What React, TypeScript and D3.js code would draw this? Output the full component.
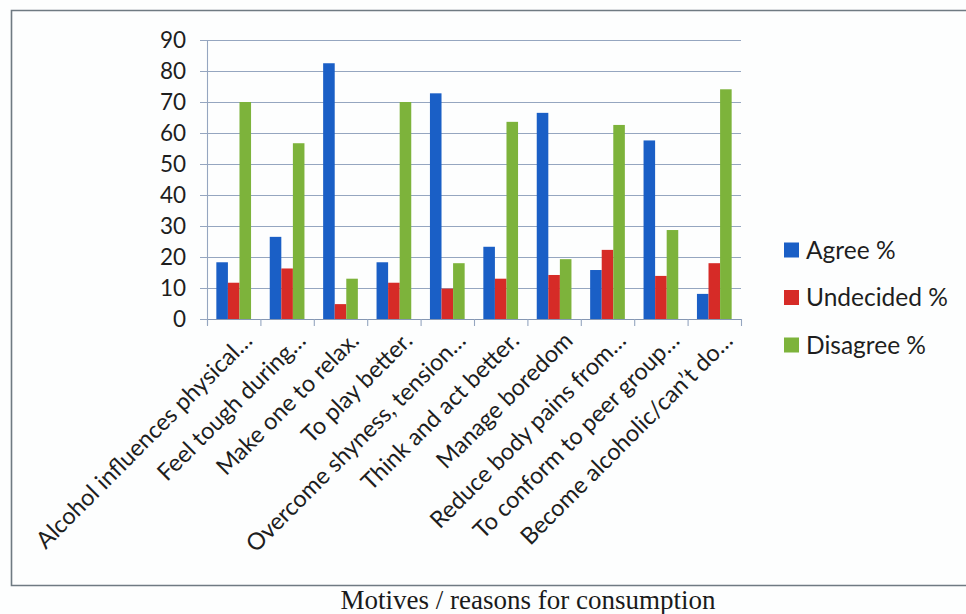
import React from "react";
import * as d3 from "d3";

const categories = [
  "Alcohol influences physical…",
  "Feel tough during…",
  "Make one to relax.",
  "To play better.",
  "Overcome shyness, tension…",
  "Think and act better.",
  "Manage boredom",
  "Reduce body pains from…",
  "To conform to peer group…",
  "Become alcoholic/can’t do…",
];

const seriesNames = ["Agree %", "Undecided %", "Disagree %"];
const agree = [18.3, 26.5, 82.5, 18.3, 72.8, 23.3, 66.5, 15.8, 57.6, 8.1];
const undecided = [11.7, 16.3, 4.8, 11.7, 9.8, 13, 14.2, 22.3, 13.9, 18];
const disagree = [70, 56.7, 13, 70, 18, 63.6, 19.3, 62.6, 28.7, 74.1];
const yTicks = [0, 10, 20, 30, 40, 50, 60, 70, 80, 90];
const axisTitle = "Motives / reasons for consumption";

const seriesColors = ["#1a5fc6", "#d62b27", "#7db33b"];

const W = 966;
const H = 614;
const plot = { left: 207, right: 741, top: 40, bottom: 319 };
const sansFont = "Lato, 'Open Sans', sans-serif";

export default function App() {
  const values = [agree, undecided, disagree];
  const x0 = d3
    .scaleBand<string>()
    .domain(categories)
    .range([plot.left, plot.right])
    .paddingInner(0.35)
    .paddingOuter(0.175);
  const x1 = d3
    .scaleBand<string>()
    .domain(seriesNames)
    .range([0, x0.bandwidth()]);
  const y = d3.scaleLinear().domain([0, 90]).range([plot.bottom, plot.top]);
  const step = x0.step();

  return (
    <svg
      width={W}
      height={H}
      style={{ position: "absolute", left: 0, top: 0, background: "#fdfefe" }}
    >
      {/* outer frame */}
      <rect x={0} y={0} width={W} height={H} fill="#fdfefe" />
      <path
        d={`M ${W + 5} 10.5 H 11.5 V 585.5 H ${W + 5}`}
        fill="none"
        stroke="#6f7a82"
        strokeWidth={1.6}
      />

      {/* gridlines */}
      {yTicks.map((t) => (
        <line
          key={"g" + t}
          x1={plot.left - 7}
          x2={plot.right}
          y1={y(t) + 0.5}
          y2={y(t) + 0.5}
          stroke="#95a6c0"
          strokeWidth={1.1}
        />
      ))}

      {/* y axis */}
      <line
        x1={plot.left + 0.5}
        x2={plot.left + 0.5}
        y1={plot.top}
        y2={plot.bottom + 6}
        stroke="#95a6c0"
        strokeWidth={1.1}
      />
      {yTicks.map((t) => (
        <text
          key={"yt" + t}
          x={186}
          y={y(t)}
          dy="0.35em"
          textAnchor="end"
          fontFamily={sansFont}
          fontSize={22.5}
          fill="#1e1e1e"
        >
          {t}
        </text>
      ))}

      {/* bars */}
      {categories.map((c, i) => (
        <g key={"c" + i} transform={`translate(${x0(c)},0)`}>
          {seriesNames.map((s, j) => (
            <rect
              key={s}
              x={x1(s)}
              y={y(values[j][i])}
              width={x1.bandwidth()}
              height={y(0) - y(values[j][i])}
              fill={seriesColors[j]}
            />
          ))}
        </g>
      ))}

      {/* x axis and category ticks */}
      <line
        x1={plot.left}
        x2={plot.right}
        y1={plot.bottom + 0.5}
        y2={plot.bottom + 0.5}
        stroke="#8597b3"
        strokeWidth={1.2}
      />
      {d3.range(categories.length + 1).map((i) => (
        <line
          key={"tk" + i}
          x1={plot.left + i * step + 0.5}
          x2={plot.left + i * step + 0.5}
          y1={plot.bottom}
          y2={plot.bottom + 7}
          stroke="#95a6c0"
          strokeWidth={1.1}
        />
      ))}
      {categories.map((c, i) => {
        const cx = (x0(c) as number) + x0.bandwidth() / 2 + 20;
        const cy = plot.bottom + 23;
        return (
          <text
            key={"xl" + i}
            transform={`translate(${cx},${cy}) rotate(-45)`}
            textAnchor="end"
            fontFamily={sansFont}
            fontSize={23.5}
            fill="#1e1e1e"
          >
            {c}
          </text>
        );
      })}

      {/* legend */}
      {seriesNames.map((s, j) => (
        <g key={"lg" + s} transform={`translate(784,${250 + j * 47.5})`}>
          <rect x={0} y={-7.5} width={15} height={15} fill={seriesColors[j]} />
          <text
            x={22}
            y={0}
            dy="0.35em"
            fontFamily={sansFont}
            fontSize={24.5}
            fill="#1e1e1e"
          >
            {s}
          </text>
        </g>
      ))}

      {/* axis title under the frame */}
      <text
        x={528}
        y={609}
        textAnchor="middle"
        fontFamily="'Liberation Serif', 'Times New Roman', serif"
        fontSize={27}
        fill="#1a1a1a"
      >
        {axisTitle}
      </text>
    </svg>
  );
}
